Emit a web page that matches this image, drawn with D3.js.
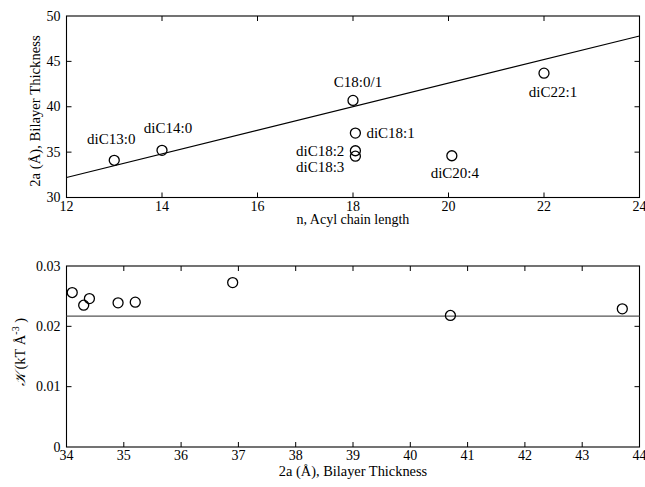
<!DOCTYPE html>
<html>
<head>
<meta charset="utf-8">
<script src="https://cdn.jsdelivr.net/npm/d3@7"></script>
<style>
  body { margin: 0; background: #fff; }
  text { font-family: "Liberation Serif", "Times New Roman", serif; fill: #000; }
</style>
</head>
<body>
<div id="chart"></div>
<script>
// top panel: bilayer thickness vs acyl chain length
var lipidNames = ["diC13:0", "diC14:0", "C18:0/1", "diC18:1", "diC18:2", "diC18:3", "diC20:4", "diC22:1"];
var chainLength = [13, 14, 18, 18.05, 18.05, 18.05, 20.07, 22];
var thickness = [34.1, 35.2, 40.7, 37.1, 35.15, 34.55, 34.6, 43.7];
var fitLineX = [12, 24];
var fitLineY = [32.2, 47.8];
var topXTicks = [12, 14, 16, 18, 20, 22, 24];
var topYTicks = [30, 35, 40, 45, 50];

// bottom panel: kappa vs bilayer thickness
var kappaThick = [34.1, 34.3, 34.4, 34.9, 35.2, 36.9, 40.7, 43.7];
var kappaValue = [0.0256, 0.0235, 0.0246, 0.0239, 0.0240, 0.02725, 0.0218, 0.0229];
var kappaMean = 0.0217;
var botXTicks = [34, 35, 36, 37, 38, 39, 40, 41, 42, 43, 44];
var botYTicks = [0, 0.01, 0.02, 0.03];

// label placement relative to each point (px)
var labelPos = {
  "diC13:0": { dx: -3, dy: -16, anchor: "middle" },
  "diC14:0": { dx: 6, dy: -17, anchor: "middle" },
  "C18:0/1": { dx: 5, dy: -13, anchor: "middle" },
  "diC18:1": { dx: 11, dy: 5, anchor: "start" },
  "diC18:2": { dx: -11, dy: 5.5, anchor: "end" },
  "diC18:3": { dx: -11, dy: 15.5, anchor: "end" },
  "diC20:4": { dx: 3, dy: 22, anchor: "middle" },
  "diC22:1": { dx: 9, dy: 24, anchor: "middle" }
};

var width = 645, height = 487;
var svg = d3.select("#chart").append("svg")
    .attr("width", width)
    .attr("height", height);

var left = 66.5, right = 639.5;

function panel(top, bottom, xDom, yDom, xTicks, yTicks, yFmt) {
  var x = d3.scaleLinear().domain(xDom).range([left, right]);
  var y = d3.scaleLinear().domain(yDom).range([bottom, top]);
  var g = svg.append("g");

  g.append("rect")
    .attr("x", left).attr("y", top)
    .attr("width", right - left).attr("height", bottom - top)
    .attr("fill", "none").attr("stroke", "#000").attr("stroke-width", 1.1);

  // inward ticks on all four sides
  var tl = 5;
  xTicks.forEach(function (t, i) {
    if (i == 0 || i == xTicks.length - 1) return;
    g.append("line").attr("x1", x(t)).attr("x2", x(t)).attr("y1", bottom).attr("y2", bottom - tl).attr("stroke", "#000");
    g.append("line").attr("x1", x(t)).attr("x2", x(t)).attr("y1", top).attr("y2", top + tl).attr("stroke", "#000");
  });
  yTicks.forEach(function (t, i) {
    if (i == 0 || i == yTicks.length - 1) return;
    g.append("line").attr("x1", left).attr("x2", left + tl).attr("y1", y(t)).attr("y2", y(t)).attr("stroke", "#000");
    g.append("line").attr("x1", right).attr("x2", right - tl).attr("y1", y(t)).attr("y2", y(t)).attr("stroke", "#000");
  });

  g.selectAll(".xt").data(xTicks).enter().append("text")
    .attr("x", function (d) { return x(d); })
    .attr("y", bottom + 13)
    .attr("text-anchor", "middle")
    .attr("font-size", "14px")
    .text(function (d) { return d; });

  g.selectAll(".yt").data(yTicks).enter().append("text")
    .attr("x", left - 6)
    .attr("y", function (d) { return y(d) + 4.5; })
    .attr("text-anchor", "end")
    .attr("font-size", "14px")
    .text(yFmt);

  return { x: x, y: y, g: g };
}

// ---- top panel
var p1 = panel(16, 197.5, [12, 24], [30, 50], topXTicks, topYTicks, function (d) { return d; });

p1.g.append("line")
  .attr("x1", p1.x(fitLineX[0])).attr("y1", p1.y(fitLineY[0]))
  .attr("x2", p1.x(fitLineX[1])).attr("y2", p1.y(fitLineY[1]))
  .attr("stroke", "#000").attr("stroke-width", 1.2);

var pts = lipidNames.map(function (n, i) { return { name: n, x: chainLength[i], y: thickness[i] }; });

p1.g.selectAll(".pt").data(pts).enter().append("circle")
  .attr("cx", function (d) { return p1.x(d.x); })
  .attr("cy", function (d) { return p1.y(d.y); })
  .attr("r", 5)
  .attr("fill", "none").attr("stroke", "#000").attr("stroke-width", 1.3);

p1.g.selectAll(".lbl").data(pts).enter().append("text")
  .attr("x", function (d) { return p1.x(d.x) + labelPos[d.name].dx; })
  .attr("y", function (d) { return p1.y(d.y) + labelPos[d.name].dy; })
  .attr("text-anchor", function (d) { return labelPos[d.name].anchor; })
  .attr("font-size", "15px")
  .text(function (d) { return d.name; });

svg.append("text")
  .attr("x", (left + right) / 2).attr("y", 224)
  .attr("text-anchor", "middle").attr("font-size", "14px")
  .text("n, Acyl chain length");

svg.append("text")
  .attr("transform", "translate(40,111) rotate(-90)")
  .attr("text-anchor", "middle").attr("font-size", "14.7px")
  .text("2a (Å), Bilayer Thickness");

// ---- bottom panel
var p2 = panel(266, 447, [34, 44], [0, 0.03], botXTicks, botYTicks, function (d) { return d == 0 ? "0" : d3.format(".2f")(d); });

p2.g.append("line")
  .attr("x1", left).attr("x2", right)
  .attr("y1", p2.y(kappaMean)).attr("y2", p2.y(kappaMean))
  .attr("stroke", "#555").attr("stroke-width", 1.2);

p2.g.selectAll(".kp").data(kappaThick).enter().append("circle")
  .attr("cx", function (d) { return p2.x(d); })
  .attr("cy", function (d, i) { return p2.y(kappaValue[i]); })
  .attr("r", 5)
  .attr("fill", "none").attr("stroke", "#000").attr("stroke-width", 1.3);

svg.append("text")
  .attr("x", (left + right) / 2).attr("y", 476)
  .attr("text-anchor", "middle").attr("font-size", "14.4px")
  .text("2a (Å), Bilayer Thickness");

var ky = svg.append("text")
  .attr("transform", "translate(25,352) rotate(-90)")
  .attr("text-anchor", "middle").attr("font-size", "14.5px");
ky.append("tspan").attr("font-style", "italic").text("\u{1D4A6}");
ky.append("tspan").text(" (kT Å");
ky.append("tspan").attr("dy", -6).attr("font-size", "10px").text("-3");
ky.append("tspan").attr("dy", 6).text(" )");
</script>
</body>
</html>
